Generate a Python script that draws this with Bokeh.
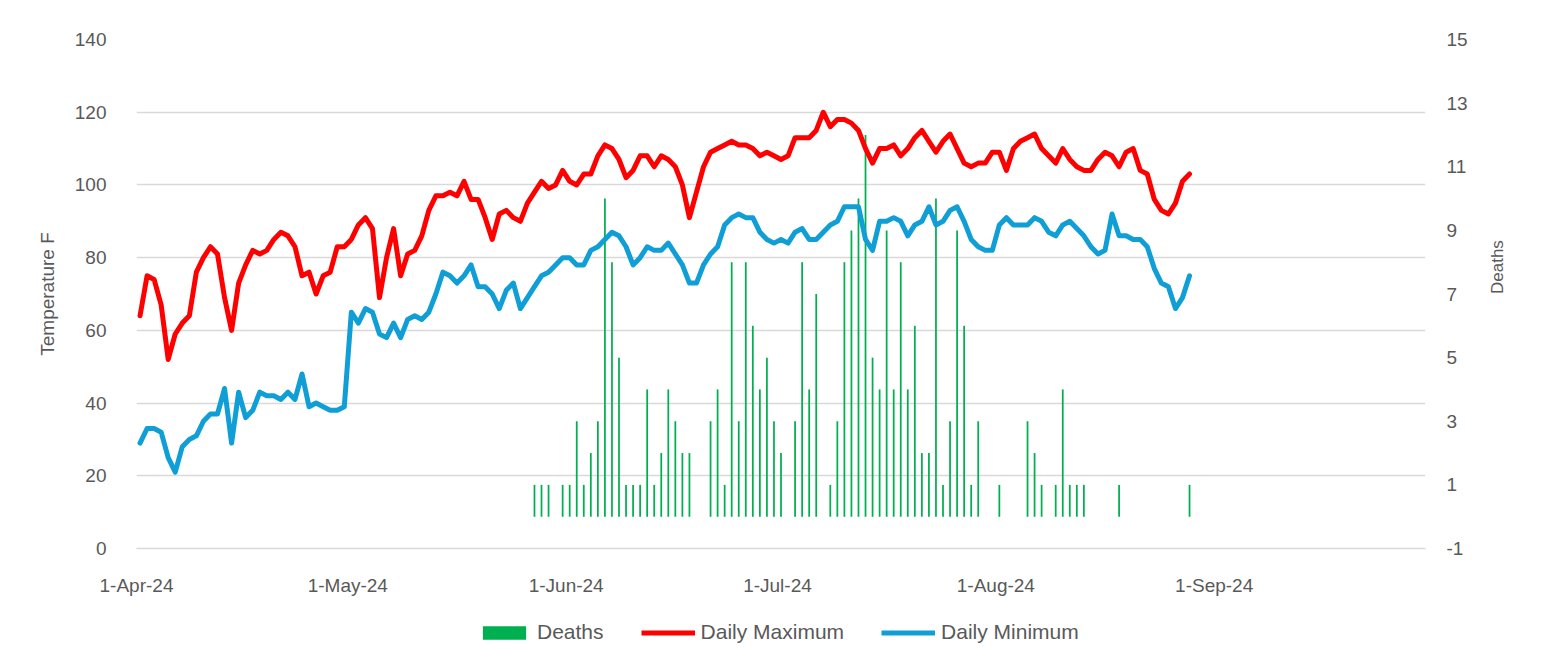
import math
import pandas as pd
from bokeh.plotting import figure
from bokeh.layouts import column
from bokeh.models import (Range1d, LinearAxis, FixedTicker, DatetimeTickFormatter,
                          Legend, LegendItem, ColumnDataSource)
from bokeh.embed import file_html
from bokeh.resources import INLINE

# ---------------- data ----------------
start_date = "2024-04-01"

daily_max = [
    # April
    64, 75, 74, 67, 52, 59, 62, 64, 76, 80, 83, 81, 69, 60, 73, 78, 82, 81, 82, 85,
    87, 86, 83, 75, 76, 70, 75, 76, 83, 83,
    # May
    85, 89, 91, 88, 69, 80, 88, 75, 81, 82, 86, 93, 97, 97, 98, 97, 101, 96, 96, 91,
    85, 92, 93, 91, 90, 95, 98, 101, 99, 100, 104,
    # June
    101, 100, 103, 103, 108, 111, 110, 107, 102, 104, 108, 108, 105, 108, 107, 105,
    100, 91, 98, 105, 109, 110, 111, 112, 111, 111, 110, 108, 109, 108,
    # July
    107, 108, 113, 113, 113, 115, 120, 116, 118, 118, 117, 115, 110, 106, 110, 110,
    111, 108, 110, 113, 115, 112, 109, 112, 114, 110, 106, 105, 106, 106, 109,
    # August
    109, 104, 110, 112, 113, 114, 110, 108, 106, 110, 107, 105, 104, 104, 107, 109,
    108, 105, 109, 110, 104, 103, 96, 93, 92, 95, 101, 103,
]

daily_min = [
    # April
    29, 33, 33, 32, 25, 21, 28, 30, 31, 35, 37, 37, 44, 29, 43, 36, 38, 43, 42, 42,
    41, 43, 41, 48, 39, 40, 39, 38, 38, 39,
    # May
    65, 62, 66, 65, 59, 58, 62, 58, 63, 64, 63, 65, 70, 76, 75, 73, 75, 78, 72, 72,
    70, 66, 71, 73, 66, 69, 72, 75, 76, 78, 80,
    # June
    80, 78, 78, 82, 83, 85, 87, 86, 83, 78, 80, 83, 82, 82, 84, 81, 78, 73, 73, 78,
    81, 83, 89, 91, 92, 91, 91, 87, 85, 84,
    # July
    85, 84, 87, 88, 85, 85, 87, 89, 90, 94, 94, 94, 85, 82, 90, 90, 91, 90, 86, 89,
    90, 94, 89, 90, 93, 94, 90, 85, 83, 82, 82,
    # August
    89, 91, 89, 89, 89, 91, 90, 87, 86, 89, 90, 88, 86, 83, 81, 82, 92, 86, 86, 85,
    85, 83, 77, 73, 72, 66, 69, 75,
]

death_dates = [
    "2024-05-27", "2024-05-28", "2024-05-29", "2024-05-31", "2024-06-01", "2024-06-02",
    "2024-06-03", "2024-06-04", "2024-06-05", "2024-06-06", "2024-06-07", "2024-06-08",
    "2024-06-09", "2024-06-10", "2024-06-11", "2024-06-12", "2024-06-13", "2024-06-14",
    "2024-06-15", "2024-06-16", "2024-06-17", "2024-06-18", "2024-06-21", "2024-06-22",
    "2024-06-23", "2024-06-24", "2024-06-25", "2024-06-26", "2024-06-27", "2024-06-28",
    "2024-06-29", "2024-06-30", "2024-07-01", "2024-07-03", "2024-07-04", "2024-07-05",
    "2024-07-06", "2024-07-08", "2024-07-09", "2024-07-10", "2024-07-11", "2024-07-12",
    "2024-07-13", "2024-07-14", "2024-07-15", "2024-07-16", "2024-07-17", "2024-07-18",
    "2024-07-19", "2024-07-20", "2024-07-21", "2024-07-22", "2024-07-23", "2024-07-24",
    "2024-07-25", "2024-07-26", "2024-07-27", "2024-07-28", "2024-07-29", "2024-08-01",
    "2024-08-05", "2024-08-06", "2024-08-07", "2024-08-09", "2024-08-10", "2024-08-11",
    "2024-08-12", "2024-08-13", "2024-08-18", "2024-08-28",
]
death_counts = [
    1, 1, 1, 1, 1, 3,
    1, 2, 3, 10, 8, 5,
    1, 1, 1, 4, 1, 2,
    4, 3, 2, 2, 3, 4,
    1, 8, 3, 8, 6, 4,
    5, 3, 2, 3, 8, 4,
    7, 1, 3, 8, 9, 10,
    12, 5, 4, 9, 4, 8,
    4, 6, 2, 2, 10, 1,
    3, 9, 6, 1, 3, 1,
    3, 2, 1, 1, 4, 1,
    1, 1, 1, 1,
]

month_ticks = ["2024-04-01", "2024-05-01", "2024-06-01", "2024-07-01", "2024-08-01", "2024-09-01"]
series_names = ["Deaths", "Daily Maximum", "Daily Minimum"]

# ---------------- styles ----------------
TXT = "#595959"
FONT = "Liberation Sans"
C_BAR, C_MAX, C_MIN = "#00B050", "#FF0000", "#0F9ED5"

# ---------------- main chart ----------------
half_day = pd.Timedelta(hours=12)
days = pd.date_range(start_date, periods=len(daily_max), freq="D") + half_day
line_src = ColumnDataSource(dict(x=days, tmax=daily_max, tmin=daily_min))
bar_src = ColumnDataSource(dict(x=pd.to_datetime(death_dates) + half_day, top=death_counts))

p = figure(width=1538, height=600, output_backend="svg", toolbar_location=None,
           x_axis_type="datetime",
           x_range=Range1d(pd.Timestamp("2024-04-01"), pd.Timestamp("2024-10-01")),
           y_range=Range1d(0, 140),
           min_border_left=136, min_border_right=113, min_border_top=39, min_border_bottom=52)
p.extra_y_ranges = {"deaths": Range1d(-1, 15)}
p.outline_line_color = None
p.background_fill_color = "white"

p.vbar(x="x", top="top", bottom=0, width=6 * 3600 * 1000, source=bar_src,
       y_range_name="deaths", fill_color=C_BAR, line_color=None)
p.line("x", "tmax", source=line_src, line_color=C_MAX, line_width=5,
       line_join="round", line_cap="round")
p.line("x", "tmin", source=line_src, line_color=C_MIN, line_width=5,
       line_join="round", line_cap="round")

xa = p.xaxis[0]
xa.ticker = FixedTicker(ticks=[pd.Timestamp(t).value // 10**6 for t in month_ticks])
fmt = "%-d-%b-%y"
xa.formatter = DatetimeTickFormatter(days=fmt, months=fmt, years=fmt, hours=fmt,
                                     hourmin=fmt, minutes=fmt, minsec=fmt, seconds=fmt,
                                     milliseconds=fmt, microseconds=fmt)
xa.axis_line_color = "#D9D9D9"
xa.axis_line_width = 1.5
xa.major_tick_line_color = None
xa.minor_tick_line_color = None
xa.major_label_standoff = 20
xa.major_label_text_font = FONT
xa.major_label_text_font_size = "19px"
xa.major_label_text_color = TXT

ya = p.yaxis[0]
ya.ticker = FixedTicker(ticks=list(range(0, 141, 20)))
ya.axis_label = "Temperature F"
ya.axis_label_text_font = FONT
ya.axis_label_text_font_size = "19px"
ya.axis_label_text_font_style = "normal"
ya.axis_label_text_color = TXT
ya.axis_label_standoff = 14
ya.axis_line_color = None
ya.major_tick_line_color = None
ya.minor_tick_line_color = None
ya.major_label_standoff = 24
ya.major_label_text_font = FONT
ya.major_label_text_font_size = "19px"
ya.major_label_text_color = TXT

ra = LinearAxis(y_range_name="deaths", ticker=FixedTicker(ticks=list(range(-1, 16, 2))))
ra.major_label_overrides = {-1: "-1"}
ra.axis_label = "Deaths"
ra.axis_label_orientation = math.pi / 2
ra.axis_label_text_font = FONT
ra.axis_label_text_font_size = "17px"
ra.axis_label_text_font_style = "normal"
ra.axis_label_text_color = TXT
ra.axis_label_standoff = 27
ra.axis_line_color = None
ra.major_tick_line_color = None
ra.minor_tick_line_color = None
ra.major_label_standoff = 15
ra.major_label_text_font = FONT
ra.major_label_text_font_size = "19px"
ra.major_label_text_color = TXT
p.add_layout(ra, "right")

p.xgrid.grid_line_color = None
p.ygrid.grid_line_color = "#D9D9D9"
p.ygrid.grid_line_width = 1.5

# ---------------- legend strip ----------------
lg = figure(width=1538, height=50, output_backend="svg", toolbar_location=None,
            x_range=Range1d(0, 1), y_range=Range1d(0, 1),
            x_axis_location=None, y_axis_location=None,
            min_border_left=0, min_border_right=0, min_border_top=0, min_border_bottom=0)
lg.outline_line_color = None
lg.xgrid.visible = False
lg.ygrid.visible = False
# off-screen stand-ins so that the legend can draw its swatches
stub = ColumnDataSource(dict(x=[-10, -9], y=[-10, -10]))
r_bar = lg.vbar(x="x", top="y", width=0.1, source=stub, fill_color=C_BAR, line_color=None)
r_max = lg.line("x", "y", source=stub, line_color=C_MAX, line_width=5)
r_min = lg.line("x", "y", source=stub, line_color=C_MIN, line_width=5)
legend = Legend(items=[LegendItem(label=series_names[0], renderers=[r_bar]),
                       LegendItem(label=series_names[1], renderers=[r_max]),
                       LegendItem(label=series_names[2], renderers=[r_min])],
                orientation="horizontal", location=(341, 6),
                glyph_width=54, glyph_height=17, label_standoff=6, spacing=37,
                padding=0, margin=0, border_line_color=None, background_fill_alpha=0,
                label_text_font=FONT, label_text_font_size="21px", label_text_color=TXT)
lg.add_layout(legend, "center")

layout = column(p, lg, spacing=0)
open("out.html", "w").write(file_html(layout, INLINE))
